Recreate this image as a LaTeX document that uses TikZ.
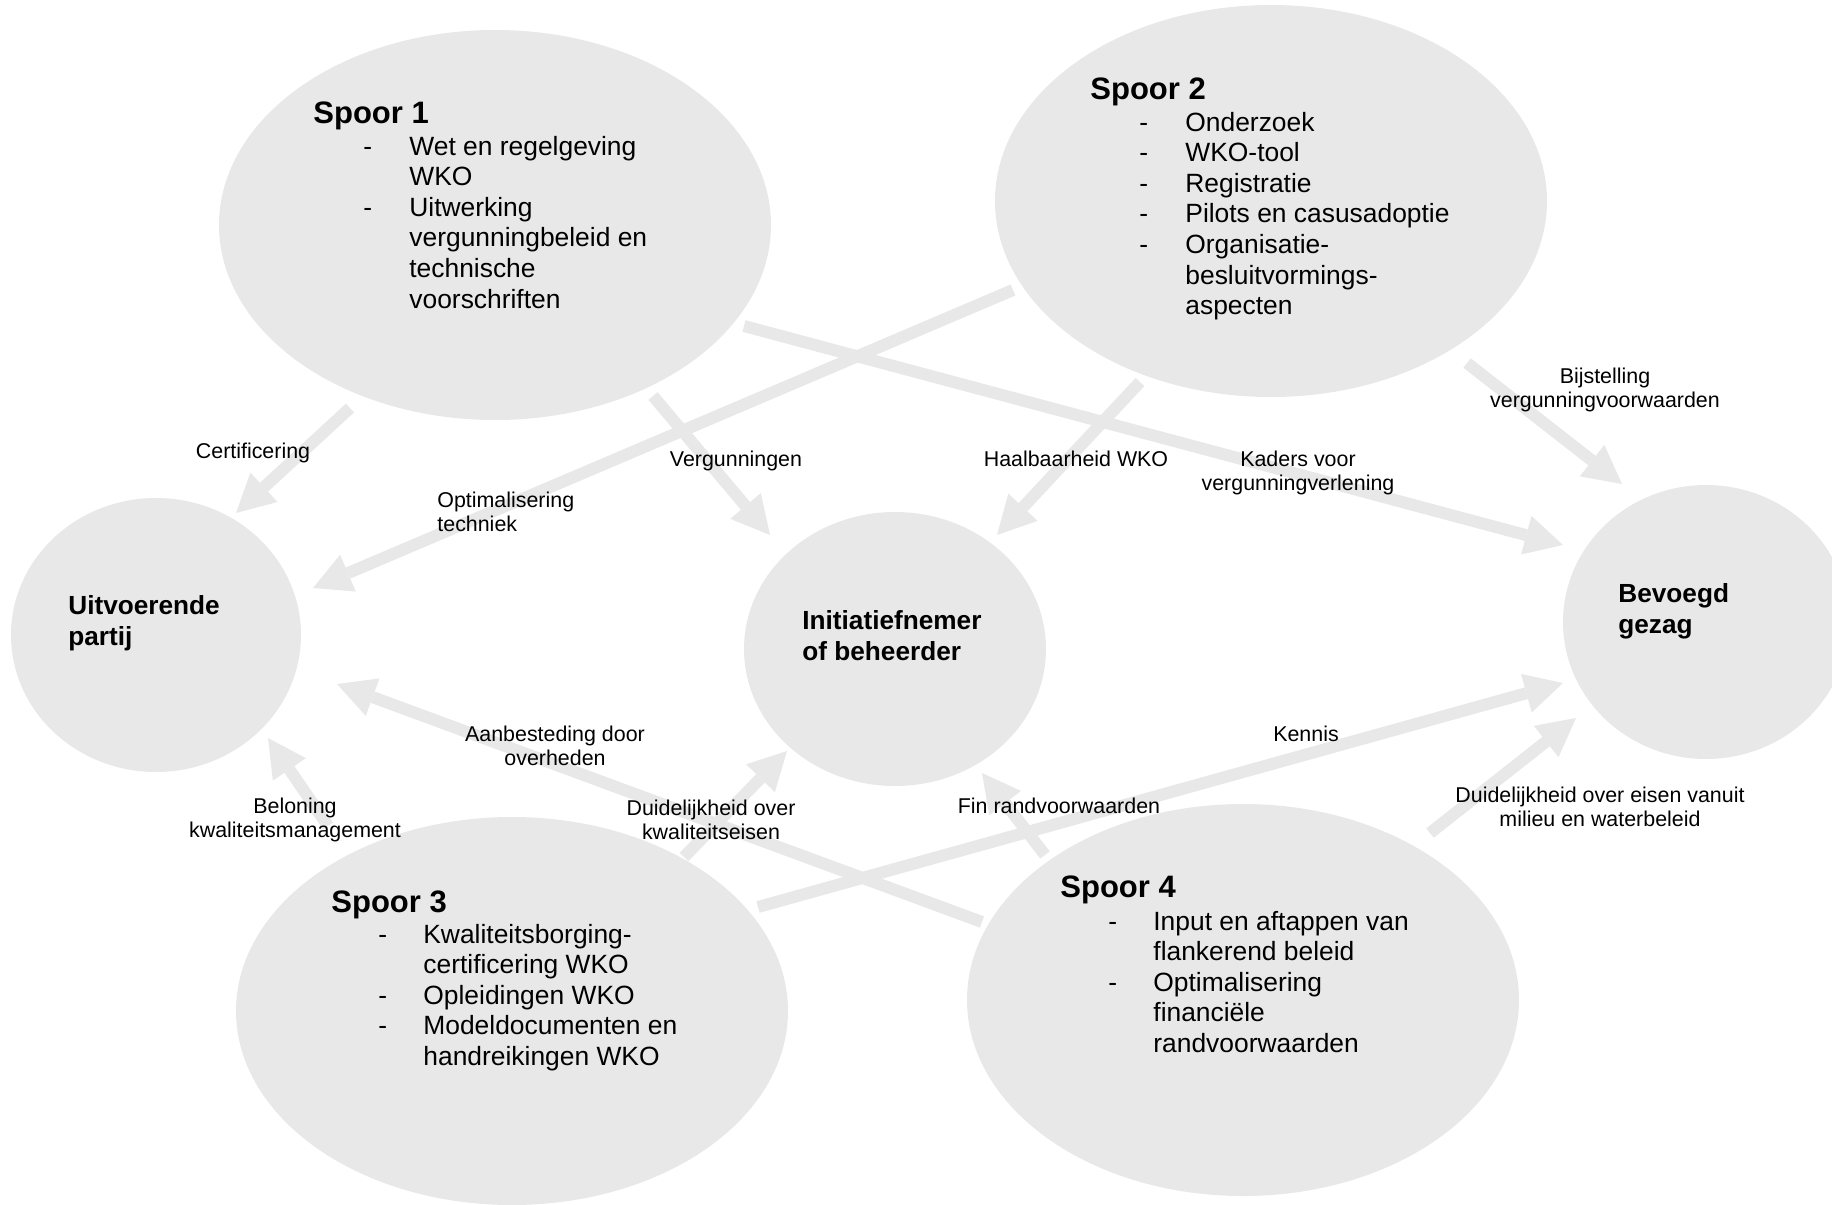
\documentclass[tikz,border=0pt]{standalone}
\usepackage{fontspec}
\setmainfont{Liberation Sans}
\usetikzlibrary{arrows.meta,shapes.geometric}

\definecolor{bubblegray}{RGB}{232,232,232}

\begin{document}
\begin{tikzpicture}[x=0.5pt, y=-0.5pt,
    bubble/.style={ellipse, fill=bubblegray, inner sep=0pt},
    flow/.style={draw=bubblegray, line width=6pt,
      -{Triangle[length=19pt, width=20pt, line width=0pt 0 0]}},
    spoortitle/.style={anchor=base west, inner sep=0pt,
      font=\fontsize{15.5}{18}\selectfont\bfseries},
    spoorlist/.style={anchor=base west, inner sep=0pt,
      font=\fontsize{13.2}{15.3}\selectfont},
    actor/.style={anchor=base west, inner sep=0pt, align=left,
      font=\fontsize{13.1}{15.5}\selectfont\bfseries},
    flowlabel/.style={anchor=base, inner sep=0pt, align=center,
      font=\fontsize{10.7}{12}\selectfont}]
  \useasboundingbox (0,0) rectangle (1832,1205);

  % sporen en actoren
  \node[bubble, minimum width=276pt, minimum height=195pt] (spoor1) at (495,225) {};
  \node[bubble, minimum width=276pt, minimum height=196pt] (spoor2) at (1271,201) {};
  \node[bubble, minimum width=276pt, minimum height=194pt] (spoor3) at (512,1011) {};
  \node[bubble, minimum width=276pt, minimum height=196pt] (spoor4) at (1243,1000) {};
  \node[bubble, minimum width=145pt, minimum height=137pt] (uitvoerend) at (156,635) {};
  \node[bubble, minimum width=151pt, minimum height=137pt] (initiatief) at (895,649) {};
  \node[bubble, minimum width=143pt, minimum height=137pt] (bevoegd) at (1706,622) {};

  % eindpunten van de pijlen
  \coordinate (cert-a) at (350,408);    \coordinate (cert-b) at (236,513);
  \coordinate (optim-a) at (1013,290);  \coordinate (optim-b) at (313,588);
  \coordinate (verg-a) at (653,396);    \coordinate (verg-b) at (770,535);
  \coordinate (kaders-a) at (744,326);  \coordinate (kaders-b) at (1563,545);
  \coordinate (haalb-a) at (1140,382);  \coordinate (haalb-b) at (997,535);
  \coordinate (bijst-a) at (1467,363);  \coordinate (bijst-b) at (1622,484);
  \coordinate (aanb-a) at (982,922);    \coordinate (aanb-b) at (337,684);
  \coordinate (belon-a) at (328,826);   \coordinate (belon-b) at (268,738);
  \coordinate (kwal-a) at (684,857);    \coordinate (kwal-b) at (787,751);
  \coordinate (kennis-a) at (758,907);  \coordinate (kennis-b) at (1563,683);
  \coordinate (fin-a) at (1045,855);    \coordinate (fin-b) at (982,773);
  \coordinate (milieu-a) at (1430,833); \coordinate (milieu-b) at (1576,718);

  % pijlen
  \draw[flow] (cert-a) -- (cert-b);
  \draw[flow] (optim-a) -- (optim-b);
  \draw[flow] (verg-a) -- (verg-b);
  \draw[flow] (kaders-a) -- (kaders-b);
  \draw[flow] (haalb-a) -- (haalb-b);
  \draw[flow] (bijst-a) -- (bijst-b);
  \draw[flow] (aanb-a) -- (aanb-b);
  \draw[flow] (belon-a) -- (belon-b);
  \draw[flow] (kwal-a) -- (kwal-b);
  \draw[flow] (kennis-a) -- (kennis-b);
  \draw[flow] (fin-a) -- (fin-b);
  \draw[flow] (milieu-a) -- (milieu-b);

  % teksten in de sporen
  \node[spoortitle] (spoor1-title) at (313,123) {Spoor 1};
  \node[spoorlist] (spoor1-list) at (363,155) {%
    \begin{tabular}[t]{@{}p{23pt}@{}l@{}}
      - & Wet en regelgeving\\
        & WKO\\
      - & Uitwerking\\
        & vergunningbeleid en\\
        & technische\\
        & voorschriften
    \end{tabular}};
  \node[spoortitle] (spoor2-title) at (1090,99) {Spoor 2};
  \node[spoorlist] (spoor2-list) at (1139,131) {%
    \begin{tabular}[t]{@{}p{23pt}@{}l@{}}
      - & Onderzoek\\
      - & WKO-tool\\
      - & Registratie\\
      - & Pilots en casusadoptie\\
      - & Organisatie-\\
        & besluitvormings-\\
        & aspecten
    \end{tabular}};
  \node[spoortitle] (spoor3-title) at (331,912) {Spoor 3};
  \node[spoorlist] (spoor3-list) at (378,943) {%
    \begin{tabular}[t]{@{}p{22.5pt}@{}l@{}}
      - & Kwaliteitsborging-\\
        & certificering WKO\\
      - & Opleidingen WKO\\
      - & Modeldocumenten en\\
        & handreikingen WKO
    \end{tabular}};
  \node[spoortitle] (spoor4-title) at (1060,897) {Spoor 4};
  \node[spoorlist] (spoor4-list) at (1108,930) {%
    \begin{tabular}[t]{@{}p{22.5pt}@{}l@{}}
      - & Input en aftappen van\\
        & flankerend beleid\\
      - & Optimalisering\\
        & financiële\\
        & randvoorwaarden
    \end{tabular}};

  % actoren (base = laatste regel)
  \node[actor] (uitvoerend-txt) at (68,645) {Uitvoerende\\partij};
  \node[actor] (initiatief-txt) at (802,660) {Initiatiefnemer\\of beheerder};
  \node[actor] (bevoegd-txt) at (1618,633) {Bevoegd\\gezag};

  % labels bij de pijlen
  \node[flowlabel] (cert-lbl) at (253,458) {Certificering};
  \node[flowlabel, anchor=base west, align=left] (optim-lbl) at (437,531) {Optimalisering\\techniek};
  \node[flowlabel] (verg-lbl) at (736,466) {Vergunningen};
  \node[flowlabel] (haalb-lbl) at (1076,466) {Haalbaarheid WKO};
  \node[flowlabel] (kaders-lbl) at (1298,490) {Kaders voor\\vergunningverlening};
  \node[flowlabel] (bijst-lbl) at (1605,407) {Bijstelling\\vergunningvoorwaarden};
  \node[flowlabel] (aanb-lbl) at (555,765) {Aanbesteding door\\overheden};
  \node[flowlabel] (belon-lbl) at (295,837) {Beloning\\kwaliteitsmanagement};
  \node[flowlabel] (kwal-lbl) at (711,839) {Duidelijkheid over\\kwaliteitseisen};
  \node[flowlabel] (kennis-lbl) at (1306,741) {Kennis};
  \node[flowlabel] (fin-lbl) at (1059,813) {Fin randvoorwaarden};
  \node[flowlabel] (milieu-lbl) at (1600,826) {Duidelijkheid over eisen vanuit\\milieu en waterbeleid};
\end{tikzpicture}
\end{document}
